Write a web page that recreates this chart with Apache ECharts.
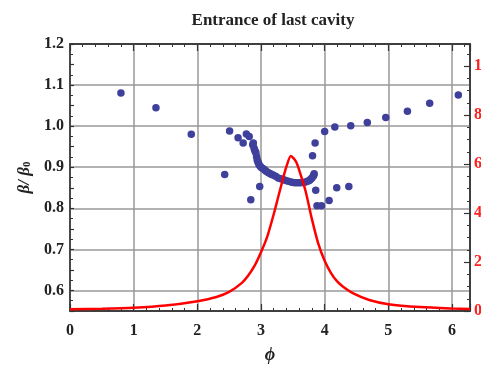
<!DOCTYPE html>
<html><head><meta charset="utf-8">
<script src="https://cdn.jsdelivr.net/npm/echarts@6/dist/echarts.min.js"></script>
<style>html,body{margin:0;padding:0;background:#fff}#c{width:481px;height:374px}</style>
</head><body><div id="c"></div>
<script>
// Scatter: beta/beta0 vs phi
const ptsX = [0.80,1.35,1.905,2.43,2.507,2.64,2.72,2.77,2.815,2.84,2.87,2.88,2.89,2.90,2.91,2.92,2.93,2.94,2.95,2.96,2.97,2.98,2.99,3.01,3.035,3.06,3.08,3.11,3.14,3.16,3.19,3.23,3.27,3.31,3.35,3.39,3.43,3.47,3.505,3.54,3.58,3.62,3.66,3.70,3.73,3.76,3.78,3.80,3.82,3.83,3.835,3.81,3.85,3.86,3.88,3.95,4.00,4.07,4.16,4.19,4.38,4.41,4.67,4.96,5.30,5.65,6.10];
const ptsY = [1.081,1.045,0.980,0.882,0.988,0.972,0.959,0.981,0.975,0.821,0.955,0.959,0.947,0.942,0.938,0.935,0.926,0.918,0.914,0.910,0.906,0.853,0.902,0.899,0.896,0.893,0.890,0.887,0.885,0.883,0.881,0.878,0.874,0.872,0.870,0.868,0.866,0.864,0.863,0.862,0.862,0.862,0.863,0.864,0.866,0.868,0.871,0.874,0.878,0.881,0.884,0.928,0.959,0.844,0.806,0.806,0.987,0.819,0.998,0.850,0.853,1.001,1.009,1.021,1.036,1.056,1.076];
// Red curve (right axis)
const redX = [0,0.5,1.0,1.5,2.0,2.3,2.5,2.7,2.8,2.9,3.0,3.1,3.2,3.3,3.4,3.47,3.55,3.6,3.7,3.8,3.9,4.0,4.1,4.2,4.3,4.45,4.7,5.0,5.5,6.0,6.2832];
const redY = [0.07,0.09,0.13,0.22,0.40,0.57,0.78,1.15,1.45,1.85,2.4,3.05,3.95,4.95,5.9,6.33,6.1,5.75,4.9,3.75,2.75,2.05,1.55,1.2,0.97,0.72,0.45,0.28,0.16,0.1,0.08];
const titleText = 'Entrance of last cavity';
const xName = 'ϕ';

const serif = '"Liberation Serif","DejaVu Serif",serif';
const chart = echarts.init(document.getElementById('c'));
chart.setOption({
  animation:false,
  backgroundColor:'#fff',
  title:{text:titleText,left:268,top:7,textAlign:'center',textStyle:{fontFamily:serif,fontWeight:'bold',fontSize:17,color:'#222'}},
  grid:{left:70,right:11,top:44,bottom:63,outerBoundsMode:'none',containLabel:false,show:true,borderColor:'#333',borderWidth:1.5,backgroundColor:'transparent'},
  xAxis:[{
    type:'value',min:0,max:6.2832,interval:1,position:'bottom',
    name:xName,nameLocation:'middle',nameGap:35,
    nameTextStyle:{fontFamily:serif,fontWeight:'bold',fontStyle:'italic',fontSize:18,color:'#222'},
    axisLine:{show:true,onZero:false,lineStyle:{color:'#333',width:1.5}},
    axisTick:{show:true,inside:true,length:7,lineStyle:{color:'#333',width:1.2}},
    minorTick:{show:true,splitNumber:5,length:3,lineStyle:{color:'#333',width:1}},
    axisLabel:{showMaxLabel:false,margin:12,fontFamily:serif,fontWeight:'bold',fontSize:16,color:'#222'},
    splitLine:{show:true,showMaxLine:false,lineStyle:{color:'#999',width:1.5}}
  },{
    type:'value',min:0,max:6.2832,interval:1,position:'top',
    axisLine:{show:true,onZero:false,lineStyle:{color:'#333',width:1.5}},
    axisTick:{show:true,inside:true,length:7,lineStyle:{color:'#333',width:1.2}},
    minorTick:{show:true,splitNumber:5,length:3,lineStyle:{color:'#333',width:1}},
    axisLabel:{show:false},splitLine:{show:false}
  }],
  yAxis:[{
    type:'value',min:0.55,max:1.2,interval:0.05,position:'left',
    name:'{a|β/ β}{s|0}',nameLocation:'middle',nameGap:26,nameRotate:90,
    nameTextStyle:{rich:{
      a:{fontFamily:serif,fontWeight:'bold',fontStyle:'italic',fontSize:17,color:'#222'},
      s:{fontFamily:serif,fontWeight:'bold',fontSize:11,color:'#222',verticalAlign:'bottom',padding:[6,0,0,0]}
    }},
    axisLine:{show:true,onZero:false,lineStyle:{color:'#333',width:1.5}},
    axisTick:{show:true,inside:true,length:4,lineStyle:{color:'#333',width:1.2}},
    minorTick:{show:true,splitNumber:2,length:3,lineStyle:{color:'#333',width:1}},
    axisLabel:{margin:6,fontFamily:serif,fontWeight:'bold',fontSize:16,color:'#222',
      formatter:v=>{const r=Math.round(v*100);return r%10===0?(r/100).toFixed(1):'';}},
    splitLine:{show:true,showMinLine:false,showMaxLine:false,lineStyle:{color:['#999','rgba(0,0,0,0)'],width:1.5}}
  },{
    type:'value',min:0,max:10.9,interval:2,position:'right',
    axisLine:{show:true,onZero:false,lineStyle:{color:'#333',width:1.5}},
    axisTick:{show:true,inside:true,length:6,lineStyle:{color:'#333',width:1.2}},
    minorTick:{show:true,splitNumber:4,length:3,lineStyle:{color:'#333',width:1}},
    axisLabel:{showMaxLabel:false,margin:4,fontFamily:serif,fontWeight:'bold',fontSize:16,color:'#ff2020'},
    splitLine:{show:false}
  }],
  series:[{
    type:'scatter',xAxisIndex:0,yAxisIndex:0,symbolSize:7.5,
    itemStyle:{color:'#3f3f9c',opacity:1},
    data:ptsX.map((x,i)=>[x,ptsY[i]]),z:2
  },{
    type:'line',xAxisIndex:0,yAxisIndex:1,showSymbol:false,symbol:'none',smooth:0.25,
    lineStyle:{color:'#ff0000',width:2.5},
    data:redX.map((x,i)=>[x,redY[i]]),z:3
  }]
});
</script></body></html>
